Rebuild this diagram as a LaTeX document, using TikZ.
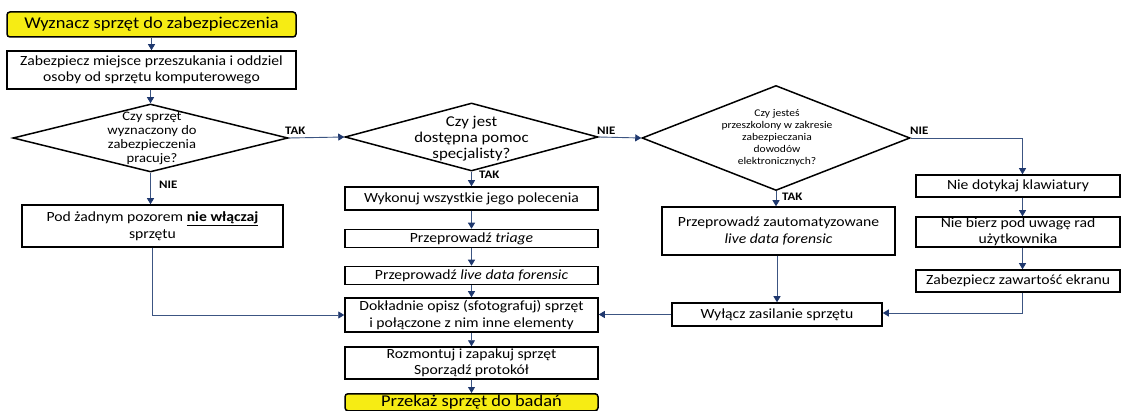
\documentclass[tikz,border=0pt]{standalone}
\usepackage{fontspec}
\setmainfont{Carlito}[FakeStretch=1.12]
\usetikzlibrary{shapes.geometric,arrows.meta}
\definecolor{navy}{RGB}{31,56,110}
\definecolor{linec}{RGB}{60,85,130}
\definecolor{yel}{RGB}{246,236,20}
\begin{document}
\begin{tikzpicture}[x=1pt,y=-1pt,
  box/.style={draw=black,line width=1.5pt,fill=white,inner sep=0pt,align=center,font=\fontsize{14}{16.5}\selectfont},
  term/.style={box,fill=yel,rounded corners=3pt,font=\fontsize{16.5}{18}\selectfont},
  dia/.style={draw=black,line width=1.5pt,diamond,inner sep=0pt},
  dtext/.style={align=center,inner sep=0pt},
  arr/.style={draw=linec,line width=0.9pt,-{Triangle[width=7pt,length=6pt,fill=navy,color=navy]}},
  ln/.style={draw=linec,line width=0.9pt},
  lab/.style={font=\fontsize{11.5}{12}\selectfont\bfseries,inner sep=0pt}
]
\useasboundingbox (0,0) rectangle (1123,411);

% left column
\node[term,minimum width=289pt,minimum height=25pt] (start) at (151.5,24.5) {Wyznacz sprzęt do zabezpieczenia};
\node[box,minimum width=289pt,minimum height=38pt] (b2) at (151.5,70) {Zabezpiecz miejsce przeszukania i oddziel\\osoby od sprzętu komputerowego};
\node[dia,minimum width=275pt,minimum height=68pt] (d1) at (150.5,138) {};
\node[dtext,font=\fontsize{13}{14}\selectfont] (d1t) at (152,138) {Czy sprzęt\\wyznaczony do\\zabezpieczenia\\pracuje?};
\node[box,minimum width=261pt,minimum height=42pt] (b3) at (152.5,226) {Pod żadnym pozorem \underline{\textbf{nie włączaj}}\\sprzętu};

% middle column
\node[dia,minimum width=253pt,minimum height=68pt] (d2) at (471.5,137) {};
\node[dtext,font=\fontsize{15}{16}\selectfont] (d2t) at (471.5,139) {Czy jest\\dostępna pomoc\\specjalisty?};
\node[box,minimum width=253pt,minimum height=23pt] (w1) at (471.5,198.5) {Wykonuj wszystkie jego polecenia};
\node[box,minimum width=253pt,minimum height=18pt] (w2) at (471.5,238.5) {Przeprowadź \textit{triage}};
\node[box,minimum width=253pt,minimum height=18pt] (w3) at (471.5,275.5) {Przeprowadź \textit{live data forensic}};
\node[box,minimum width=253pt,minimum height=34pt] (w4) at (471.5,315) {Dokładnie opisz (sfotografuj) sprzęt\\i połączone z nim inne elementy};
\node[box,minimum width=253pt,minimum height=32pt] (w5) at (471.5,363) {Rozmontuj i zapakuj sprzęt\\Sporządź protokół};
\node[term,minimum width=253pt,minimum height=17pt,anchor=north] (end) at (471.5,393) {Przekaż sprzęt do badań};

% third column
\node[dia,minimum width=268pt,minimum height=105pt] (d3) at (776,138) {};
\node[dtext,font=\fontsize{10.3}{12}\selectfont] (d3t) at (777,138) {Czy jesteś\\przeszkolony w zakresie\\zabezpieczania\\dowodów\\elektronicznych?};
\node[box,minimum width=233pt,minimum height=48pt] (z1) at (778.5,231) {Przeprowadź zautomatyzowane\\\textit{live data forensic}};
\node[box,minimum width=210pt,minimum height=23pt] (z2) at (777,314.5) {Wyłącz zasilanie sprzętu};

% right column
\node[box,minimum width=204pt,minimum height=22pt] (r1) at (1018,186) {Nie dotykaj klawiatury};
\node[box,minimum width=204pt,minimum height=30pt] (r2) at (1018,232) {Nie bierz pod uwagę rad\\użytkownika};
\node[box,minimum width=204pt,minimum height=22pt] (r3) at (1018,281) {Zabezpiecz zawartość ekranu};
\coordinate (colR) at (1022.5,0);
\coordinate (cornerL) at (152,315);
\coordinate (cornerR) at (1022.5,313);
\coordinate (cornerT) at (1022.5,138);

% connectors
\draw[arr] (start) -- (b2);
\draw[arr] (b2.south -| d1.north) -- (d1.north);
\draw[arr] (d1.east) -- (d2.west);
\draw[arr] (d1.south) -- (b3.north -| d1.south);
\draw[arr] (b3.south -| cornerL) -- (cornerL) -- (w4.west);
\draw[arr] (d2.east) -- (d3.west);
\draw[arr] (d2.south) -- (w1.north -| d2.south);
\draw[arr] (w1) -- (w2);
\draw[arr] (w2) -- (w3);
\draw[arr] (w3) -- (w4);
\draw[arr] (w4) -- (w5);
\draw[arr] (w5) -- (end);
\draw[arr] (d3.south) -- (z1.north -| d3.south);
\draw[arr] (z1.south -| z2.north) -- (z2.north);
\draw[arr] (z2.west) -- (w4.east |- z2.west);
\draw[arr] (d3.east) -- (cornerT) -- (r1.north -| colR);
\draw[arr] (r1.south -| colR) -- (r2.north -| colR);
\draw[arr] (r2.south -| colR) -- (r3.north -| colR);
\draw[arr] (r3.south -| colR) -- (cornerR) -- (z2.east |- cornerR);

% labels
\node[lab,anchor=south west] (l1) at (285,135) {TAK};
\node[lab,anchor=west] (l2) at (159,185) {NIE};
\node[lab,anchor=south west] (l3) at (597,135) {NIE};
\node[lab,anchor=west] (l4) at (479,175) {TAK};
\node[lab,anchor=south west] (l5) at (910,135) {NIE};
\node[lab,anchor=west] (l6) at (782,197) {TAK};
\end{tikzpicture}
\end{document}
